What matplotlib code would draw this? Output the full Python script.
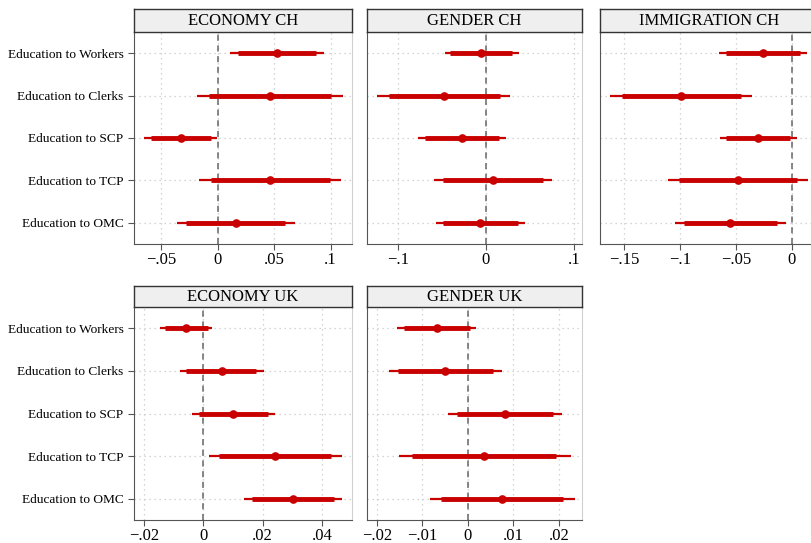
import matplotlib
matplotlib.use("Agg")
import matplotlib.pyplot as plt

plt.rcParams['font.family'] = ['Liberation Serif', 'DejaVu Serif']

# Row labels (top to bottom)
labels = ["Education to Workers", "Education to Clerks", "Education to SCP",
          "Education to TCP", "Education to OMC"]

# ECONOMY CH
eco_ch_pt = [0.0524, 0.0459, -0.0325, 0.0467, 0.0157]
eco_ch_lo95 = [0.0104, -0.0186, -0.0654, -0.0163, -0.0364]
eco_ch_hi95 = [0.0944, 0.1107, -0.0009, 0.1090, 0.0683]
eco_ch_lo90 = [0.0178, -0.0080, -0.0595, -0.0059, -0.0281]
eco_ch_hi90 = [0.0870, 0.1000, -0.0056, 0.0991, 0.0598]

# GENDER CH
gen_ch_pt = [-0.0053, -0.0479, -0.0275, 0.0079, -0.0064]
gen_ch_lo95 = [-0.0468, -0.1240, -0.0770, -0.0592, -0.0570]
gen_ch_hi95 = [0.0370, 0.0275, 0.0223, 0.0751, 0.0445]
gen_ch_lo90 = [-0.0404, -0.1106, -0.0687, -0.0487, -0.0490]
gen_ch_hi90 = [0.0298, 0.0155, 0.0147, 0.0645, 0.0366]

# IMMIGRATION CH
imm_ch_pt = [-0.0256, -0.0990, -0.0298, -0.0480, -0.0549]
imm_ch_lo95 = [-0.0650, -0.1625, -0.0644, -0.1109, -0.1044]
imm_ch_hi95 = [0.0140, -0.0355, 0.0045, 0.0149, -0.0054]
imm_ch_lo90 = [-0.0587, -0.1517, -0.0587, -0.1005, -0.0960]
imm_ch_hi90 = [0.0075, -0.0456, -0.0012, 0.0045, -0.0134]

# ECONOMY UK
eco_uk_pt = [-0.0057, 0.0062, 0.0101, 0.0242, 0.0303]
eco_uk_lo95 = [-0.0145, -0.0080, -0.0038, 0.0018, 0.0137]
eco_uk_hi95 = [0.0028, 0.0204, 0.0243, 0.0467, 0.0467]
eco_uk_lo90 = [-0.0131, -0.0057, -0.0016, 0.0053, 0.0164]
eco_uk_hi90 = [0.0015, 0.0179, 0.0219, 0.0430, 0.0441]

# GENDER UK
gen_uk_pt = [-0.0067, -0.0050, 0.0082, 0.0036, 0.0075]
gen_uk_lo95 = [-0.0155, -0.0174, -0.0044, -0.0152, -0.0084]
gen_uk_hi95 = [0.0018, 0.0075, 0.0207, 0.0226, 0.0236]
gen_uk_lo90 = [-0.0141, -0.0154, -0.0023, -0.0123, -0.0060]
gen_uk_hi90 = [0.0004, 0.0055, 0.0187, 0.0194, 0.0209]

panels = [
    ("ECONOMY CH", eco_ch_pt, eco_ch_lo95, eco_ch_hi95, eco_ch_lo90, eco_ch_hi90,
     [-0.05, 0, 0.05, 0.1], ["\u2212.05", "0", ".05", ".1"], (-0.0743, 0.119)),
    ("GENDER CH", gen_ch_pt, gen_ch_lo95, gen_ch_hi95, gen_ch_lo90, gen_ch_hi90,
     [-0.1, 0, 0.1], ["\u2212.1", "0", ".1"], (-0.135, 0.109)),
    ("IMMIGRATION CH", imm_ch_pt, imm_ch_lo95, imm_ch_hi95, imm_ch_lo90, imm_ch_hi90,
     [-0.15, -0.1, -0.05, 0], ["\u2212.15", "\u2212.1", "\u2212.05", "0"], (-0.1715, 0.0235)),
    ("ECONOMY UK", eco_uk_pt, eco_uk_lo95, eco_uk_hi95, eco_uk_lo90, eco_uk_hi90,
     [-0.02, 0, 0.02, 0.04], ["\u2212.02", "0", ".02", ".04"], (-0.0234, 0.0501)),
    ("GENDER UK", gen_uk_pt, gen_uk_lo95, gen_uk_hi95, gen_uk_lo90, gen_uk_hi90,
     [-0.02, -0.01, 0, 0.01, 0.02], ["\u2212.02", "\u2212.01", "0", ".01", ".02"], (-0.0222, 0.0251)),
]

# pixel boxes: left, plot top, width, plot bottom, strip top
W, H = 811, 543
boxes = [(134, 32, 218, 244, 9), (367, 32, 215, 244, 9), (600, 32, 218, 244, 9),
         (134, 307, 218, 520, 286), (367, 307, 215, 520, 286)]

red = "#c80000"
fig = plt.figure(figsize=(W / 100, H / 100), dpi=100)

for i, (title, pt, lo95, hi95, lo90, hi90, ticks, ticklabels, xlim) in enumerate(panels):
    left, top, width, bottom, stop = boxes[i]
    ax = fig.add_axes([left / W, 1 - bottom / H, width / W, (bottom - top) / H])
    ys = list(range(1, len(labels) + 1))
    ax.hlines(ys, lo95, hi95, color=red, lw=1.6, zorder=3)
    ax.hlines(ys, lo90, hi90, color=red, lw=3.5, zorder=3)
    ax.plot(pt, ys, "o", color=red, ms=5.2, zorder=4)
    ax.axvline(0, color="#666666", ls=(0, (4, 3)), lw=1.1, zorder=2)
    for t in ticks:
        ax.axvline(t, color="#c8c8c8", ls=(0, (1, 3)), lw=0.9, zorder=1)
    for y in ys:
        ax.axhline(y, color="#c8c8c8", ls=(0, (1, 3)), lw=0.9, zorder=1)
    ax.set_xlim(*xlim)
    ax.set_ylim(len(labels) + 0.5, 0.5)
    ax.set_xticks(ticks)
    ax.set_xticklabels(ticklabels, fontsize=12)
    ax.set_yticks(ys)
    if left == 134:
        ax.set_yticklabels(labels, fontsize=9.6)
        ax.tick_params(axis="y", length=4, color="#555555")
    else:
        ax.set_yticklabels([])
        ax.tick_params(axis="y", length=0)
    ax.tick_params(axis="x", length=4, color="#555555", pad=2)
    for s in ["left", "bottom"]:
        ax.spines[s].set_color("#555555")
    for s in ["top", "right"]:
        ax.spines[s].set_color("#d0d0d0")
    # strip header
    sax = fig.add_axes([left / W, 1 - top / H, width / W, (top - stop) / H])
    sax.set_facecolor("#efefef")
    sax.set_xticks([])
    sax.set_yticks([])
    for s in sax.spines.values():
        s.set_color("#333333")
        s.set_linewidth(1.0)
    sax.text(0.5, 0.48, title, ha="center", va="center", fontsize=12, transform=sax.transAxes)

fig.savefig("out.png", dpi=100)
